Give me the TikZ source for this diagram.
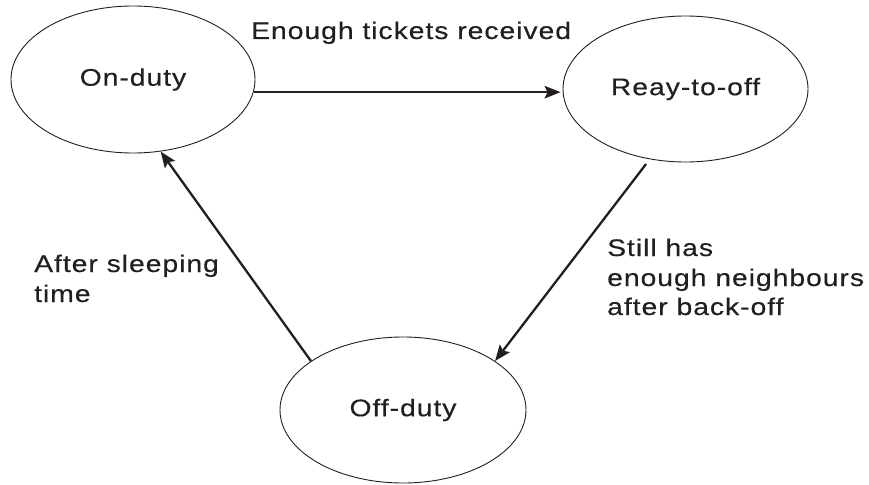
\documentclass[tikz,border=0pt]{standalone}
\usepackage{fontspec}
\setmainfont{Liberation Sans}[FakeStretch=1.18,LetterSpace=4,FakeBold=0.35]
\usetikzlibrary{shapes.geometric,arrows.meta}
\definecolor{ink}{HTML}{231F20}
\begin{document}
\begin{tikzpicture}[x=1pt,y=-1pt,
  state/.style={ellipse,draw=ink,line width=0.9pt,inner sep=0pt,text=ink,
    font=\fontsize{24}{29.5}\selectfont},
  lbl/.style={inner sep=0pt,anchor=base west,text=ink,
    font=\fontsize{24}{29.5}\selectfont},
  arr/.style={draw=ink,line width=2.3pt,-{Stealth[length=16pt,width=12.5pt,inset=3pt]}}]
\useasboundingbox (0,0) rectangle (869,484);
\node[state,minimum width=244pt,minimum height=147pt] (on) at (133,79.5) {On-duty};
\node[state,minimum width=245pt,minimum height=146pt] (rto) at (685.5,89) {Reay-to-off};
\node[state,minimum width=246pt,minimum height=146pt] (off) at (403,410) {Off-duty};
\draw[arr,shorten >=2pt] (on.-6) -- (on.-6 -| rto.west);
\draw[arr,shorten <=6pt] (rto.243.7) -- (off.28.5);
\draw[arr] (off.152.45) -- (on.291.5);
\node[lbl] (l1) at (251,39) {Enough tickets received};
\node[lbl] (l2a) at (34,272) {After sleeping};
\node[lbl] (l2b) at (34,302) {time};
\node[lbl] (l3a) at (607,256) {Still has};
\node[lbl] (l3b) at (607,286) {enough neighbours};
\node[lbl] (l3c) at (607,315) {after back-off};
\end{tikzpicture}
\end{document}
